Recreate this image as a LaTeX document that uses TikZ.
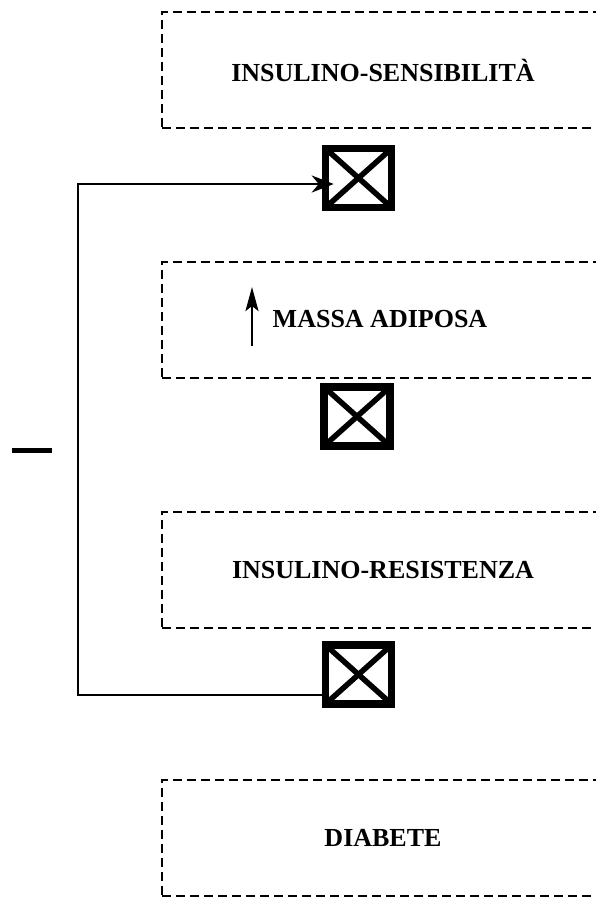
\documentclass[tikz,border=0pt]{standalone}
\usepackage{fontspec}
\setmainfont{Liberation Serif}
\usetikzlibrary{arrows.meta}
\begin{document}
\begin{tikzpicture}[x=1pt,y=-1pt,
  dbox/.style={draw, dash pattern=on 9pt off 5pt, line width=2.8pt,
    minimum width=442pt, minimum height=116pt, inner sep=0pt,
    font=\fontsize{26}{30}\selectfont\bfseries},
  xbox/.style={draw, line width=7.5pt, minimum width=66pt, minimum height=59pt, inner sep=0pt,
    path picture={
      \draw[line width=5.5pt] (path picture bounding box.north west) -- (path picture bounding box.south east);
      \draw[line width=5.5pt] (path picture bounding box.north east) -- (path picture bounding box.south west);
    }},
  conn/.style={line width=2.7pt},
  tip/.style={-{Stealth[length=22pt,width=17pt,inset=7pt]}}
]
\useasboundingbox (0,0) rectangle (596,898);
\clip (0,0) rectangle (596,898);
\node[dbox] (b1) at (383,70) {INSULINO-SENSIBILITÀ};
\node[dbox] (b2) at (383,320) {};
\node[font=\fontsize{26}{30}\selectfont\bfseries] (t2) at (380,319) {MASSA ADIPOSA};
\node[dbox] (b3) at (383,570) {INSULINO-RESISTENZA};
\node[dbox] (b4) at (383,838) {DIABETE};
\node[xbox] (c1) at (358.5,178) {};
\node[xbox] (c2) at (357,416.5) {};
\node[xbox] (c3) at (358.5,674.5) {};
\coordinate (au) at (252,346);
\coordinate (at) at (252,287);
\draw[conn,-{Stealth[length=24pt,width=13pt,inset=5pt]}] (au) -- (at);
\coordinate (tb) at (78,695);
\coordinate (tt) at (78,184);
\draw[conn,tip] ([xshift=4pt,yshift=-20.5pt]c3.west) -- (tb) -- (tt) -- ([xshift=12pt,yshift=-6pt]c1.west);
\coordinate (m1) at (12,450.5);
\coordinate (m2) at (52,450.5);
\draw[line width=5.5pt] (m1) -- (m2);
\end{tikzpicture}
\end{document}
